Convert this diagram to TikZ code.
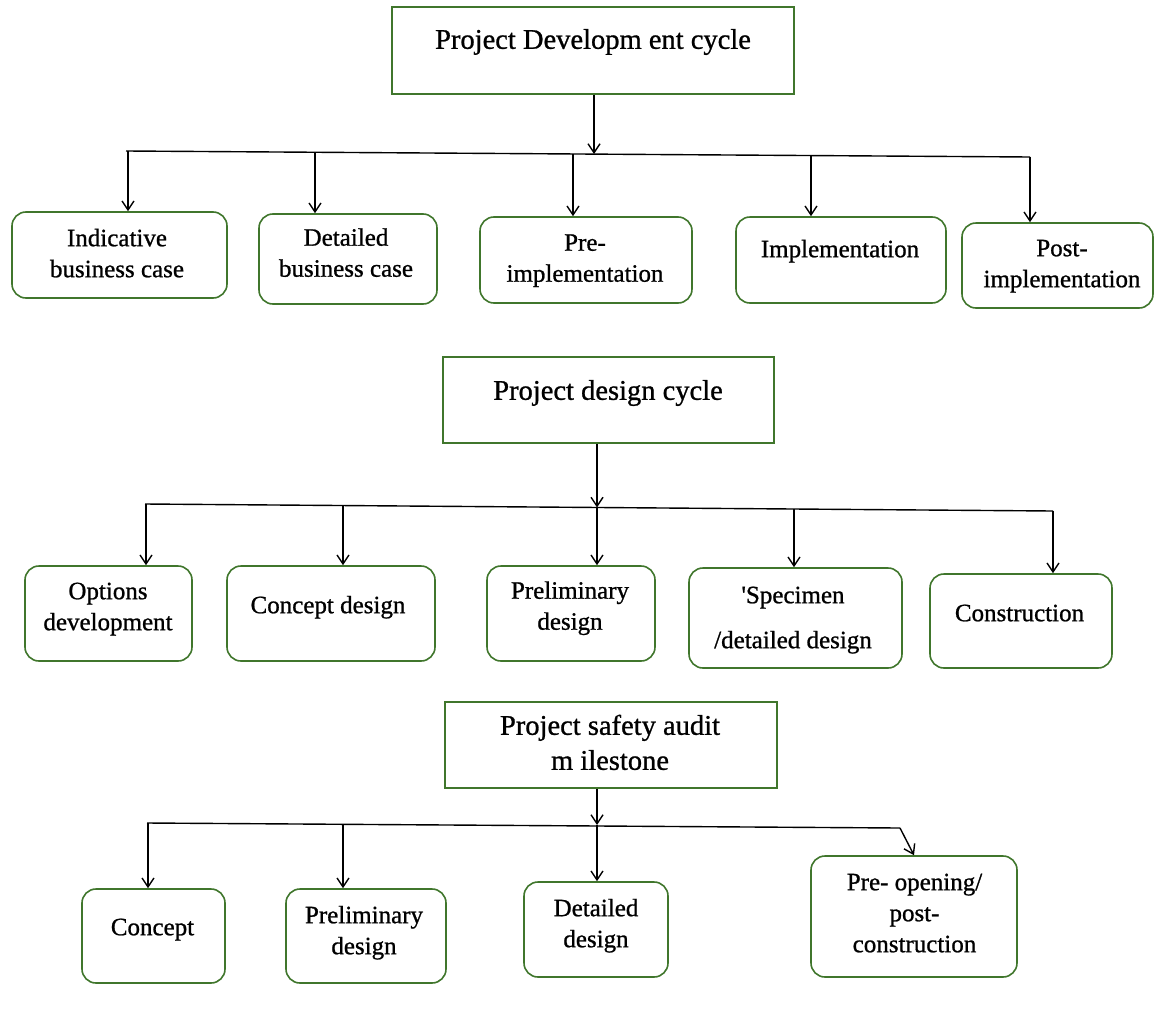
\documentclass[tikz,border=0pt]{standalone}
\usepackage{fontspec}
\setmainfont{Liberation Serif}[FakeBold=0.9]
\newfontfamily\plainserif{Liberation Serif}[FakeBold=0.9]
\usetikzlibrary{arrows.meta}
\definecolor{boxgreen}{RGB}{64,118,44}
\begin{document}
\begin{tikzpicture}[x=1pt,y=-1pt,
 titlebox/.style={draw=boxgreen,line width=1.6pt,inner sep=0pt},
 childbox/.style={draw=boxgreen,line width=1.6pt,rounded corners=14pt,inner sep=0pt},
 titletext/.style={font=\fontsize{28.5}{34}\selectfont,align=center,inner sep=0pt},
 childtext/.style={font=\fontsize{25}{31}\selectfont,align=center,inner sep=0pt},
 link/.style={line width=1.4pt,black},
 arr/.style={link,-{Straight Barb[length=9pt,width=12pt]}}
]
\useasboundingbox (0,0) rectangle (1155,1025);

% ---------- Section 1 ----------
\node[titlebox,minimum width=402pt,minimum height=87pt] (t1) at (593,50.5) {};
\node[titletext] (t1t) at (593,42) {\strut Project Developm ent cycle};

\node[childbox,minimum width=215pt,minimum height=86pt] (c1) at (119.5,255) {};
\node[childbox,minimum width=178pt,minimum height=90pt] (c2) at (348,259) {};
\node[childbox,minimum width=212pt,minimum height=86pt] (c3) at (586,260) {};
\node[childbox,minimum width=210pt,minimum height=86pt] (c4) at (841,260) {};
\node[childbox,minimum width=191pt,minimum height=85pt] (c5) at (1057.5,265.5) {};

\node[childtext] (c1t) at (117,255.5) {\strut Indicative\\\strut business case};
\node[childtext] (c2t) at (346,255) {\strut Detailed\\\strut business case};
\node[childtext] (c3t) at (585,260) {\strut Pre-\\\strut implementation};
\node[childtext] (c4t) at (840,251) {\strut Implementation};
\node[childtext] (c5t) at (1062,265.5) {\strut Post-\\\strut implementation};

\coordinate (b1L) at (126,151);
\coordinate (b1R) at (1030,157);
\coordinate (b1M) at (594,154);
\draw[link] (b1L) -- (b1R);
\draw[arr] (t1.south -| b1M) -- (b1M);
\foreach \n/\x/\y in {c1/128/151,c2/315/152,c3/573/154,c4/811/155.5,c5/1030/157}{
  \coordinate (s-\n) at (\x,\y);
  \draw[arr] (s-\n) -- (s-\n |- \n.north);
}

% ---------- Section 2 ----------
\node[titlebox,minimum width=331pt,minimum height=86pt] (t2) at (608.5,400) {};
\node[titletext] (t2t) at (608,393) {\strut Project design cycle};

\node[childbox,minimum width=167pt,minimum height=95pt] (d1) at (108.5,613.5) {};
\node[childbox,minimum width=208pt,minimum height=95pt] (d2) at (331,613.5) {};
\node[childbox,minimum width=168pt,minimum height=95pt] (d3) at (571,613.5) {};
\node[childbox,minimum width=213pt,minimum height=100pt] (d4) at (795.5,618) {};
\node[childbox,minimum width=182pt,minimum height=94pt] (d5) at (1021,621) {};

\node[childtext] (d1t) at (108,608.5) {\strut Options\\\strut development};
\node[childtext] (d2t) at (328,607) {\strut Concept design};
\node[childtext] (d3t) at (570,608) {\strut Preliminary\\\strut design};
\node[childtext] (d4t) at (793,619.5) {\strut {\plainserif'}Specimen\\[14pt]\strut /detailed design};
\node[childtext] (d5t) at (1019.5,615) {\strut Construction};

\coordinate (b2L) at (145,504);
\coordinate (b2R) at (1053,511);
\coordinate (b2M) at (597,507.5);
\draw[link] (b2L) -- (b2R);
\draw[arr] (t2.south -| b2M) -- (b2M);
\foreach \n/\x/\y in {d1/146/504,d2/343/505.5,d3/597/507.5,d4/794/509,d5/1053/511}{
  \coordinate (s-\n) at (\x,\y);
  \draw[arr] (s-\n) -- (s-\n |- \n.north);
}

% ---------- Section 3 ----------
\node[titlebox,minimum width=332pt,minimum height=86pt] (t3) at (611,745) {};
\node[titletext] (t3t) at (610,745.5) {\strut Project safety audit\\[1pt]\strut m ilestone};

\node[childbox,minimum width=143pt,minimum height=94pt] (e1) at (153.5,936) {};
\node[childbox,minimum width=160pt,minimum height=94pt] (e2) at (366,936) {};
\node[childbox,minimum width=144pt,minimum height=95pt] (e3) at (596,929.5) {};
\node[childbox,minimum width=206pt,minimum height=121pt] (e4) at (914,916.5) {};

\node[childtext] (e1t) at (152.5,929) {\strut Concept};
\node[childtext] (e2t) at (364,932.5) {\strut Preliminary\\\strut design};
\node[childtext] (e3t) at (596,925.5) {\strut Detailed\\\strut design};
\node[childtext] (e4t) at (914.5,915) {\strut Pre- opening/\\\strut post-\\\strut construction};

\coordinate (b3L) at (147,823);
\coordinate (b3R) at (900,828);
\coordinate (b3M) at (597,825);
\draw[link] (b3L) -- (b3R);
\draw[arr] (t3.south -| b3M) -- (b3M);
\foreach \n/\x/\y in {e1/148/823,e2/343/824,e3/597/825}{
  \coordinate (s-\n) at (\x,\y);
  \draw[arr] (s-\n) -- (s-\n |- \n.north);
}
\draw[arr] (b3R) -- (e4.north);
\end{tikzpicture}
\end{document}
